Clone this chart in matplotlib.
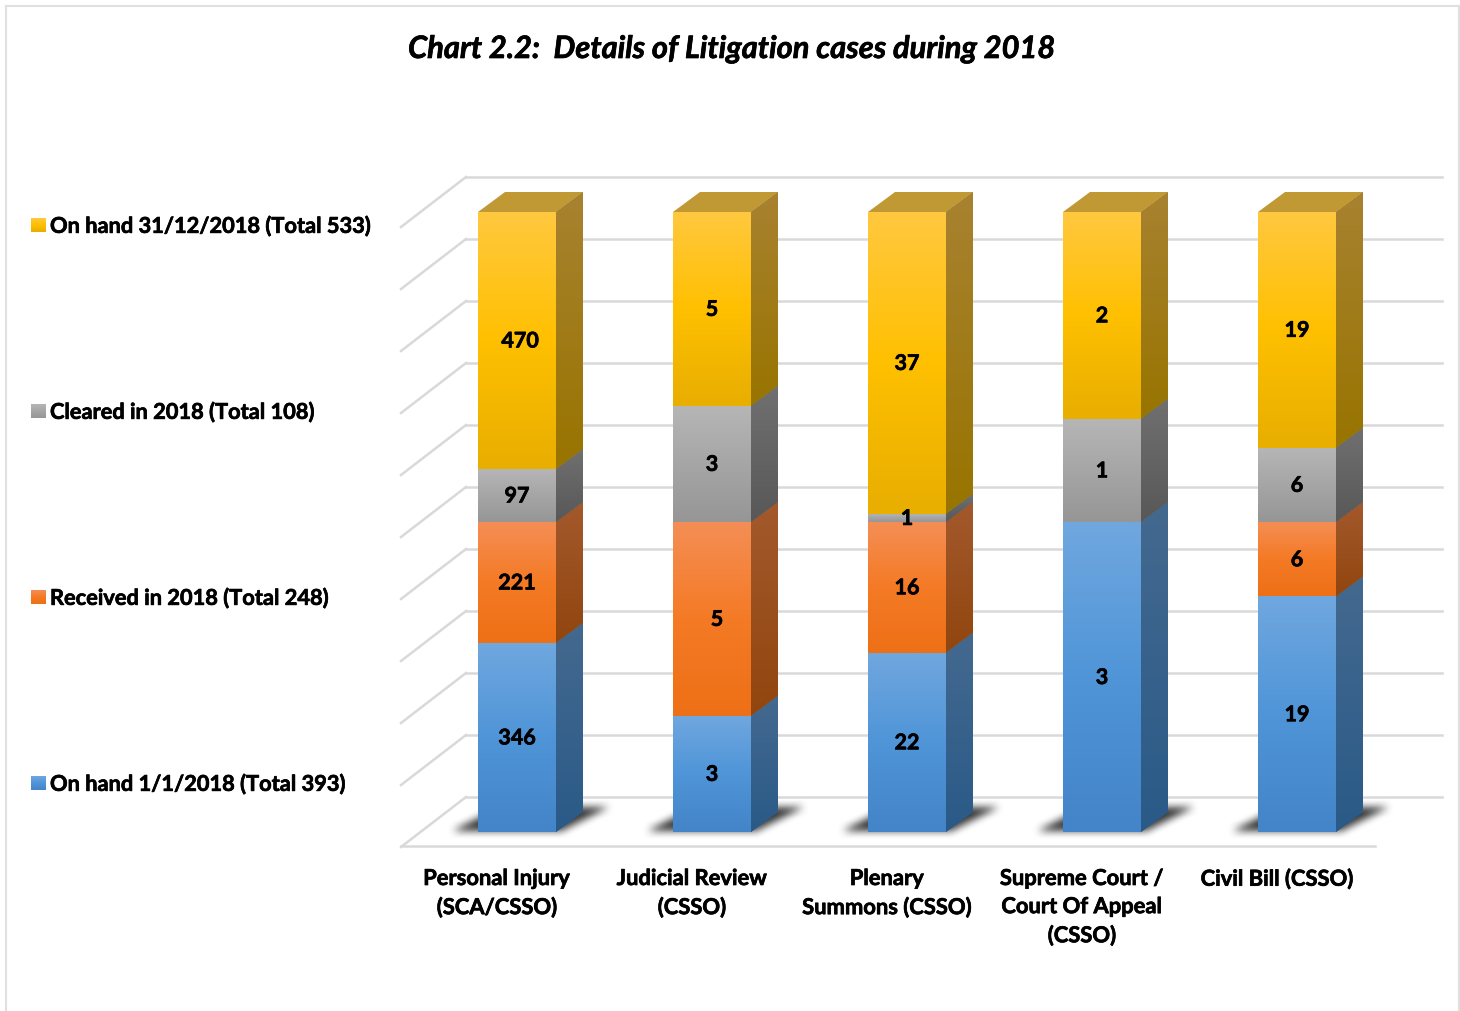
import numpy as np
import matplotlib
matplotlib.use('Agg')
import matplotlib.pyplot as plt
import matplotlib.patheffects as pe
from matplotlib.colors import LinearSegmentedColormap, to_rgb
from matplotlib.patches import Polygon, Rectangle

categories = ['Personal Injury\n(SCA/CSSO)', 'Judicial Review\n(CSSO)', 'Plenary\nSummons (CSSO)',
              'Supreme Court /\nCourt Of Appeal\n(CSSO)', 'Civil Bill (CSSO)']
on_hand_start = [346, 3, 22, 3, 19]
received = [221, 5, 16, 0, 6]
cleared = [97, 3, 1, 1, 6]
on_hand_end = [470, 5, 37, 2, 19]
series = [on_hand_start, received, cleared, on_hand_end]
legend_labels = ['On hand 1/1/2018 (Total 393)', 'Received in 2018 (Total 248)',
                 'Cleared in 2018 (Total 108)', 'On hand 31/12/2018 (Total 533)']
title = 'Chart 2.2:  Details of Litigation cases during 2018'

front_cols = [['#70A7DF', '#4F95D8', '#4484C8'],
              ['#F58E55', '#F47A25', '#EE7016'],
              ['#B6B6B6', '#A6A6A6', '#969696'],
              ['#FFC83F', '#FFC000', '#E8AE00']]
side_cols = [['#44698F', '#2A5A88'],
             ['#A3592C', '#91460F'],
             ['#707070', '#585858'],
             ['#A88230', '#987400']]
top_col = '#C09935'
grid_col = '#D9D9D9'
font = 'Lato'

W, H = 1460, 1012
X0, STEP = 517.0, 195.0
Y0, PCT = 833.0, 6.2
BAR_W = 78 / STEP
DX, DY = 27 / STEP, 20 / PCT
heavy = [pe.withStroke(linewidth=0.5, foreground='black')]


def xd(px):
    return (px - X0) / STEP


def yd(px):
    return (Y0 - px) / PCT


def grad(ax, patch, l, r, b, t, cols, z):
    cm = LinearSegmentedColormap.from_list('g', cols)
    im = ax.imshow(np.linspace(0, 1, 128).reshape(-1, 1), cmap=cm, extent=(l, r, b, t),
                   origin='upper', aspect='auto', zorder=z, interpolation='bilinear')
    im.set_clip_path(patch)


def shadow_img():
    # soft floor shadow, built on a pixel grid
    h, w = 60, 240
    a = np.zeros((h, w))
    for row in range(18, 42):
        f = (row - 18) / 23.0
        a[row, int(102 - 45 * f):int(211 - 45 * f)] = 1
    k = np.ones(9) / 9
    for _ in range(2):
        a = np.apply_along_axis(lambda v: np.convolve(v, k, 'same'), 0, a)
        a = np.apply_along_axis(lambda v: np.convolve(v, k, 'same'), 1, a)
    out = np.zeros((h, w, 4))
    out[..., :3] = to_rgb('#2E2E2E')
    out[..., 3] = a * 0.95
    return out


fig = plt.figure(figsize=(W / 100, H / 100), dpi=100)
ax = fig.add_axes([0, 0, 1, 1])
ax.set_xlim(xd(0), xd(W))
ax.set_ylim(yd(H), yd(0))
ax.axis('off')

# outer frame
for xs, ys in [((6, 6), (7, H)), ((6, 1459), (7, 7)), ((1459, 1459), (7, H))]:
    ax.plot([xd(v) for v in xs], [yd(v) for v in ys], color='#E0E0E0', lw=1.5, zorder=1)

# walls and floor
for p in range(0, 101, 10):
    y_back = p + 35 / PCT
    ax.plot([xd(466), xd(1442)], [y_back, y_back], color=grid_col, lw=1.8, zorder=1)
    ax.plot([xd(401), xd(466)], [y_back - 50 / PCT, y_back], color=grid_col, lw=1.8, zorder=1)
ax.plot([xd(401), xd(1375)], [yd(847), yd(847)], color=grid_col, lw=1.8, zorder=1)

totals = np.sum(series, axis=0)
pct = np.array(series) / totals * 100
bottoms = np.vstack([np.zeros(len(categories)), np.cumsum(pct, axis=0)[:-1]])
shadow = shadow_img()
label_nudge = {(0, 3): 3, (1, 1): 5}

for i in range(len(categories)):
    left = i - BAR_W / 2
    right = i + BAR_W / 2
    ax.imshow(shadow, extent=(xd(X0 + i * STEP - 120), xd(X0 + i * STEP + 120), yd(850), yd(790)),
              origin='upper', aspect='auto', zorder=2)
    for s in range(len(series)):
        v = pct[s, i]
        if v == 0:
            continue
        b = bottoms[s, i]
        bar = ax.bar(i, v, BAR_W, bottom=b, color=front_cols[s][1], linewidth=0, zorder=4)[0]
        grad(ax, bar, left, right, b, b + v, front_cols[s], 4.1)
        side = Polygon([(right, b), (right + DX, b + DY), (right + DX, b + v + DY), (right, b + v)],
                       closed=True, facecolor=side_cols[s][1], edgecolor='none', zorder=3)
        ax.add_patch(side)
        grad(ax, side, right, right + DX, b, b + v + DY, side_cols[s], 3.1)
        ax.text(i + label_nudge.get((i, s), 0) / STEP, b + v / 2 - 0.5 / PCT, str(series[s][i]), ha='center',
                va='center', fontsize=15.5, fontweight='bold', family=font, color='black', zorder=6,
                path_effects=heavy)
    ax.add_patch(Polygon([(left, 100), (right, 100), (right + DX, 100 + DY), (left + DX, 100 + DY)],
                         closed=True, facecolor=top_col, edgecolor='none', zorder=3))
    ax.text(xd(X0 + i * STEP - 20), yd(869), categories[i], ha='center', va='top', fontsize=15.8,
            fontweight='bold', family=font, color='black', linespacing=1.42, zorder=6, path_effects=heavy)

# legend
for lab, cols, py in zip(legend_labels, front_cols, [784, 598, 412, 226]):
    sw = Rectangle((xd(31), yd(py + 7)), 14 / STEP, 14 / PCT, facecolor=cols[1], edgecolor='none', zorder=4)
    ax.add_patch(sw)
    grad(ax, sw, xd(31), xd(45), yd(py + 7), yd(py - 7), cols, 4.1)
    ax.text(xd(50), yd(py + 1), lab, ha='left', va='center', fontsize=15.7, fontweight='bold',
            family=font, color='black', zorder=6, path_effects=heavy)

ax.text(xd(732), yd(50), title, ha='center', va='center', fontsize=22.2, fontweight='bold',
        style='italic', family=font, color='black', zorder=6, path_effects=heavy)

ax.set_xlim(xd(0), xd(W))
ax.set_ylim(yd(H), yd(0))
fig.savefig('out.png', dpi=100, facecolor='white')
